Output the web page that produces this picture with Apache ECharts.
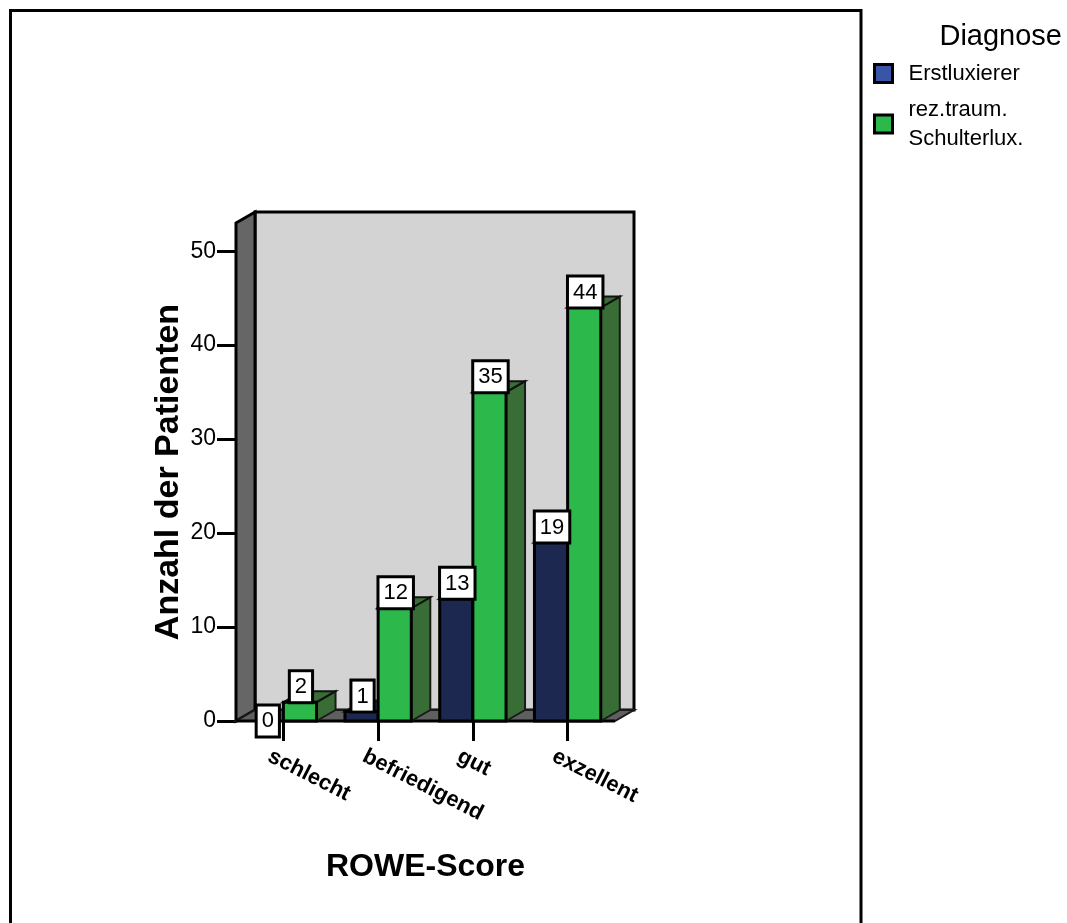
<!DOCTYPE html>
<html>
<head>
<meta charset="utf-8">
<title>ROWE-Score nach Diagnose</title>
<script src="https://cdn.jsdelivr.net/npm/echarts@6/dist/echarts.min.js"></script>
<style>
  html, body { margin: 0; padding: 0; background: #fff; }
  #chart { width: 1067px; height: 923px; }
</style>
</head>
<body>
<div id="chart"></div>
<script>
// ---- data ----
const categories = ['schlecht', 'befriedigend', 'gut', 'exzellent'];
const seriesNames = ['Erstluxierer', 'rez.traum.\nSchulterlux.'];
const erstluxierer = [0, 1, 13, 19];
const rezidiv = [2, 12, 35, 44];
const yTicks = [0, 10, 20, 30, 40, 50];
const yMax = 53;

// ---- pseudo-3D look ----
const DX = 19;          // depth offset to the right (px)
const DY = -11;         // depth offset upwards (px)
const BAR_FRACTION = 0.35;
const FONT = "'Liberation Sans', Arial, Helvetica, sans-serif";

const palette = {
  blue:  { legend: '#3a55a6', front: '#1d2850', side: '#232946', top: '#2a2f48' },
  green: { legend: '#2db84b', front: '#2db84b', side: '#386e35', top: '#386e35' }
};

function toPairs(values) {
  return values.map((v, i) => [i, v]);
}

// back wall, left wall and floor of the 3D box
function renderWalls(params, api) {
  const cs = params.coordSys;
  const xL = cs.x, xR = cs.x + cs.width;
  const y0 = api.coord([0, 0])[1];
  const yT = api.coord([0, yMax])[1];
  return {
    type: 'group',
    children: [
      { type: 'rect',
        shape: { x: xL + DX, y: yT + DY, width: xR - xL, height: y0 - yT },
        style: { fill: '#d3d3d3', stroke: '#000', lineWidth: 3 } },
      { type: 'polygon',
        shape: { points: [[xL, yT], [xL + DX, yT + DY], [xL + DX, y0 + DY], [xL, y0]] },
        style: { fill: '#666666', stroke: '#000', lineWidth: 3, lineJoin: 'miter' } },
      { type: 'polygon',
        shape: { points: [[xL, y0], [xR, y0], [xR + DX, y0 + DY], [xL + DX, y0 + DY]] },
        style: { fill: '#5f5f5f', stroke: '#1a1a1a', lineWidth: 2 } },
      { type: 'line',
        shape: { x1: xL, y1: y0, x2: xR, y2: y0 },
        style: { stroke: '#000', lineWidth: 3 } }
    ]
  };
}

// one 3D bar (front, side, top) plus a boxed value label
function barRenderer(offsetSide, colors) {
  return function (params, api) {
    const cat = api.value(0);
    const v = api.value(1);
    const c = api.coord([cat, v]);
    const base = api.coord([cat, 0]);
    const w = api.size([1, 0])[0] * BAR_FRACTION;
    const x0 = offsetSide === 'left' ? c[0] - w : c[0];
    const x1 = x0 + w;
    const yT = c[1], yB = base[1];
    const children = [];
    if (v > 0) {
      children.push(
        { type: 'polygon',
          shape: { points: [[x1, yB], [x1 + DX, yB + DY], [x1 + DX, yT + DY], [x1, yT]] },
          style: { fill: colors.side, stroke: '#1a1a1a', lineWidth: 2 } },
        { type: 'polygon',
          shape: { points: [[x0, yT], [x1, yT], [x1 + DX, yT + DY], [x0 + DX, yT + DY]] },
          style: { fill: colors.top, stroke: '#111', lineWidth: 2 } },
        { type: 'rect',
          shape: { x: x0, y: yT, width: w, height: yB - yT },
          style: { fill: colors.front, stroke: '#000', lineWidth: 3 } }
      );
    }
    children.push({
      type: 'text',
      z2: 100,
      style: {
        text: String(v),
        x: (x0 + x1) / 2 + 1,
        y: v > 0 ? yT - 1 : yB,
        align: 'center',
        verticalAlign: v > 0 ? 'bottom' : 'middle',
        fontSize: 22,
        fontFamily: FONT,
        fill: '#000',
        backgroundColor: '#fff',
        borderColor: '#000',
        borderWidth: 3,
        padding: [4, 4, 3, 4]
      }
    });
    return { type: 'group', children };
  };
}

const chart = echarts.init(document.getElementById('chart'), null, { renderer: 'canvas' });

chart.setOption({
  animation: false,
  backgroundColor: '#fff',
  textStyle: { fontFamily: FONT },
  title: {
    text: 'Diagnose',
    right: 0,
    top: 17,
    textStyle: { fontSize: 29, fontWeight: 'normal', color: '#000', fontFamily: FONT }
  },
  legend: {
    orient: 'vertical',
    left: 868,
    top: 54,
    itemWidth: 18,
    itemHeight: 18,
    itemGap: 7,
    icon: 'rect',
    selectedMode: false,
    data: seriesNames,
    itemStyle: { borderColor: '#000', borderWidth: 3 },
    textStyle: { fontSize: 22, color: '#000', lineHeight: 29, fontFamily: FONT, padding: [0, 0, 0, 11] }
  },
  grid: [
    { left: 236, right: 452, top: 223, bottom: 202 },
    { left: 222, right: 466, top: 223, bottom: 202 }
  ],
  xAxis: [
    {
      gridIndex: 0,
      type: 'category',
      data: categories,
      name: 'ROWE-Score',
      nameLocation: 'middle',
      nameGap: 130,
      nameTextStyle: { fontSize: 32, fontWeight: 'bold', color: '#000', fontFamily: FONT },
      axisLine: { show: false },
      axisTick: { show: true, alignWithLabel: true, length: 20, lineStyle: { color: '#000', width: 3 } },
      axisLabel: { show: false },
      splitLine: { show: false }
    },
    {
      gridIndex: 1,
      type: 'category',
      data: categories,
      axisLine: { show: false },
      axisTick: { show: false },
      splitLine: { show: false },
      axisLabel: {
        rotate: -27,
        margin: 34,
        interval: 0,
        fontSize: 22,
        fontWeight: 'bold',
        color: '#000',
        fontFamily: FONT
      }
    }
  ],
  yAxis: [
    {
      gridIndex: 0,
      type: 'value',
      min: 0,
      max: yMax,
      interval: 10,
      name: 'Anzahl der Patienten',
      nameLocation: 'middle',
      nameGap: 50,
      nameTextStyle: { fontSize: 34, fontWeight: 'bold', color: '#000', fontFamily: FONT },
      axisLine: { show: true, lineStyle: { color: '#000', width: 3 } },
      axisTick: { show: true, customValues: yTicks, length: 19, lineStyle: { color: '#000', width: 3 } },
      axisLabel: { customValues: yTicks, margin: 20, fontSize: 23, color: '#000', fontFamily: FONT },
      splitLine: { show: false }
    },
    { gridIndex: 1, type: 'value', min: 0, max: yMax, show: false }
  ],
  graphic: [
    {
      type: 'polyline',
      silent: true,
      shape: { points: [[10.5, 930], [10.5, 10.5], [861, 10.5], [861, 930]] },
      style: { stroke: '#000', lineWidth: 3, fill: null }
    }
  ],
  series: [
    {
      type: 'custom',
      name: 'box',
      xAxisIndex: 0,
      yAxisIndex: 0,
      silent: true,
      renderItem: renderWalls,
      data: [[0, 0]]
    },
    {
      type: 'custom',
      name: seriesNames[0],
      xAxisIndex: 0,
      yAxisIndex: 0,
      itemStyle: { color: palette.blue.legend },
      renderItem: barRenderer('left', palette.blue),
      data: toPairs(erstluxierer)
    },
    {
      type: 'custom',
      name: seriesNames[1],
      xAxisIndex: 0,
      yAxisIndex: 0,
      itemStyle: { color: palette.green.legend },
      renderItem: barRenderer('right', palette.green),
      data: toPairs(rezidiv)
    }
  ]
});
</script>
</body>
</html>
